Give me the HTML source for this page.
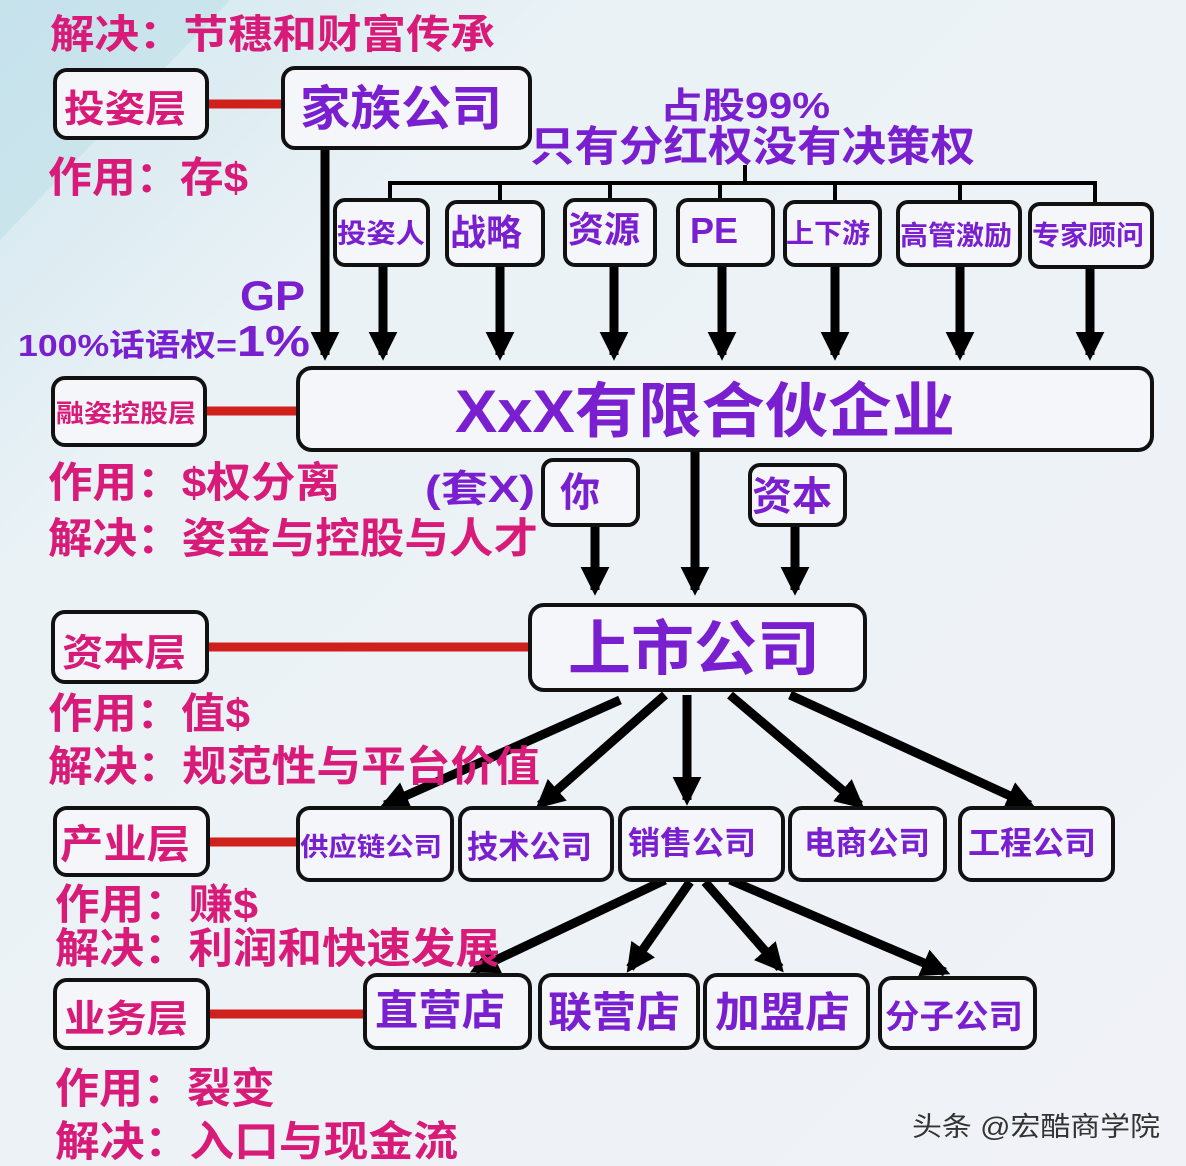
<!DOCTYPE html>
<html><head><meta charset="utf-8"><style>
html,body{margin:0;padding:0;width:1186px;height:1166px;overflow:hidden;background:#eef2f6}
svg{display:block}
text{font-family:"Liberation Sans","Noto Sans CJK SC",sans-serif;font-weight:bold}
.m{fill:#d81b78}
.p{fill:#7a1fd0}
.b{fill:#f4f6fa;stroke:#111;stroke-width:4}
</style></head><body>
<svg width="1186" height="1166" viewBox="0 0 1186 1166">
<defs>
<linearGradient id="bg" x1="0" y1="0" x2="1" y2="1">
<stop offset="0" stop-color="#cfe6ee"/><stop offset="0.25" stop-color="#eaf2f6"/><stop offset="1" stop-color="#f0f2f7"/></linearGradient>
<marker id="ah" viewBox="0 0 10 10" refX="8" refY="5" markerWidth="3.2" markerHeight="3.2" orient="auto"><path d="M0,0 L10,5 L0,10 z" fill="#000"/></marker>
</defs>
<rect width="1186" height="1166" fill="url(#bg)"/>
<path d="M0,0 L230,0 L0,240 z" fill="#bfe0ea" opacity="0.6"/>

<g stroke="#d0201c" stroke-width="9">
<line x1="207" y1="104" x2="285" y2="104"/>
<line x1="205" y1="411" x2="300" y2="411"/>
<line x1="207" y1="647" x2="532" y2="647"/>
<line x1="208" y1="842" x2="300" y2="842"/>
<line x1="208" y1="1014" x2="367" y2="1014"/>
</g>

<g stroke="#000" stroke-width="4" fill="none">
<line x1="745" y1="165" x2="745" y2="183"/>
<path d="M390,205 L390,183 L1095,183 L1095,205"/>
<line x1="500" y1="183" x2="500" y2="203"/>
<line x1="610" y1="183" x2="610" y2="203"/>
<line x1="720" y1="183" x2="720" y2="203"/>
<line x1="835" y1="183" x2="835" y2="203"/>
<line x1="960" y1="183" x2="960" y2="203"/>
</g>

<g stroke="#000" stroke-width="9" marker-end="url(#ah)">
<line x1="325" y1="148" x2="325" y2="355"/>
<line x1="383" y1="265" x2="383" y2="355"/>
<line x1="500" y1="265" x2="500" y2="355"/>
<line x1="614" y1="265" x2="614" y2="355"/>
<line x1="722" y1="265" x2="722" y2="355"/>
<line x1="835" y1="265" x2="835" y2="355"/>
<line x1="960" y1="265" x2="960" y2="355"/>
<line x1="1090" y1="265" x2="1090" y2="355"/>
<line x1="695" y1="450" x2="695" y2="590"/>
<line x1="595" y1="525" x2="595" y2="590"/>
<line x1="795" y1="525" x2="795" y2="590"/>
<line x1="620" y1="700" x2="385" y2="805"/>
<line x1="665" y1="695" x2="540" y2="805"/>
<line x1="687" y1="695" x2="687" y2="800"/>
<line x1="730" y1="695" x2="860" y2="805"/>
<line x1="790" y1="695" x2="1030" y2="805"/>
<line x1="665" y1="880" x2="475" y2="970"/>
<line x1="690" y1="882" x2="630" y2="968"/>
<line x1="705" y1="882" x2="780" y2="968"/>
<line x1="730" y1="880" x2="945" y2="972"/>
</g>

<rect class="b" x="55" y="70" width="152" height="68" rx="12"/>
<rect class="b" x="283" y="68" width="247" height="80" rx="12"/>
<rect class="b" x="335" y="200" width="93" height="65" rx="10"/>
<rect class="b" x="447" y="202" width="96" height="63" rx="10"/>
<rect class="b" x="565" y="200" width="90" height="65" rx="10"/>
<rect class="b" x="678" y="200" width="95" height="65" rx="10"/>
<rect class="b" x="785" y="202" width="95" height="63" rx="10"/>
<rect class="b" x="898" y="202" width="122" height="63" rx="10"/>
<rect class="b" x="1030" y="204" width="122" height="63" rx="10"/>
<rect class="b" x="53" y="378" width="152" height="67" rx="12"/>
<rect class="b" x="298" y="368" width="854" height="82" rx="14"/>
<rect class="b" x="543" y="460" width="95" height="65" rx="10"/>
<rect class="b" x="750" y="465" width="95" height="60" rx="10"/>
<rect class="b" x="53" y="612" width="154" height="70" rx="12"/>
<rect class="b" x="530" y="605" width="335" height="85" rx="14"/>
<rect class="b" x="55" y="808" width="153" height="67" rx="12"/>
<rect class="b" x="298" y="808" width="154" height="72" rx="12"/>
<rect class="b" x="460" y="808" width="152" height="72" rx="12"/>
<rect class="b" x="620" y="808" width="163" height="72" rx="12"/>
<rect class="b" x="790" y="808" width="155" height="72" rx="12"/>
<rect class="b" x="960" y="808" width="153" height="72" rx="12"/>
<rect class="b" x="55" y="980" width="153" height="68" rx="12"/>
<rect class="b" x="365" y="975" width="165" height="73" rx="12"/>
<rect class="b" x="540" y="975" width="158" height="73" rx="12"/>
<rect class="b" x="705" y="975" width="163" height="73" rx="12"/>
<rect class="b" x="880" y="978" width="155" height="70" rx="12"/>

<g lengthAdjust="spacingAndGlyphs">
<text class="m" x="50" y="48" font-size="40" textLength="445" lengthAdjust="spacingAndGlyphs">解决：节穗和财富传承</text>
<text class="m" x="64" y="122" font-size="38" textLength="122" lengthAdjust="spacingAndGlyphs">投姿层</text>
<text class="p" x="300" y="125" font-size="48" textLength="202" lengthAdjust="spacingAndGlyphs">家族公司</text>
<text class="m" x="48" y="192" font-size="42" textLength="200" lengthAdjust="spacingAndGlyphs">作用：存$</text>
<text class="p" x="660" y="118" font-size="36" textLength="170" lengthAdjust="spacingAndGlyphs">占股99%</text>
<text class="p" x="530" y="161" font-size="42" textLength="445" lengthAdjust="spacingAndGlyphs">只有分红权没有决策权</text>
<text class="p" x="337" y="243" font-size="27" textLength="88" lengthAdjust="spacingAndGlyphs">投姿人</text>
<text class="p" x="450" y="245" font-size="36">战略</text>
<text class="p" x="568" y="242" font-size="36">资源</text>
<text class="p" x="690" y="243" font-size="36">PE</text>
<text class="p" x="786" y="243" font-size="27" textLength="84" lengthAdjust="spacingAndGlyphs">上下游</text>
<text class="p" x="900" y="245" font-size="27" textLength="112" lengthAdjust="spacingAndGlyphs">高管激励</text>
<text class="p" x="1032" y="245" font-size="27" textLength="112" lengthAdjust="spacingAndGlyphs">专家顾问</text>
<text class="p" x="240" y="310" font-size="42" textLength="65" lengthAdjust="spacingAndGlyphs">GP</text>
<text class="p" x="18" y="356" font-size="31" textLength="292" lengthAdjust="spacingAndGlyphs">100%话语权=<tspan font-size="44">1%</tspan></text>
<text class="m" x="56" y="422" font-size="25" textLength="140" lengthAdjust="spacingAndGlyphs">融姿控股层</text>
<text class="p" x="455" y="432" font-size="60" textLength="500" lengthAdjust="spacingAndGlyphs">XxX有限合伙企业</text>
<text class="m" x="48" y="497" font-size="42" textLength="292" lengthAdjust="spacingAndGlyphs">作用：$权分离</text>
<text class="m" x="48" y="553" font-size="42" textLength="490" lengthAdjust="spacingAndGlyphs">解决：姿金与控股与人才</text>
<text class="p" x="425" y="502" font-size="38" textLength="110" lengthAdjust="spacingAndGlyphs">(套X)</text>
<text class="p" x="560" y="506" font-size="40">你</text>
<text class="p" x="752" y="510" font-size="40">资本</text>
<text class="m" x="62" y="666" font-size="38" textLength="124" lengthAdjust="spacingAndGlyphs">资本层</text>
<text class="p" x="568" y="670" font-size="60" textLength="252" lengthAdjust="spacingAndGlyphs">上市公司</text>
<text class="m" x="48" y="728" font-size="42" textLength="202" lengthAdjust="spacingAndGlyphs">作用：值$</text>
<text class="m" x="48" y="781" font-size="42" textLength="492" lengthAdjust="spacingAndGlyphs">解决：规范性与平台价值</text>
<text class="m" x="60" y="858" font-size="40" textLength="130" lengthAdjust="spacingAndGlyphs">产业层</text>
<text class="p" x="300" y="856" font-size="26" textLength="142" lengthAdjust="spacingAndGlyphs">供应链公司</text>
<text class="p" x="467" y="858" font-size="32" textLength="125" lengthAdjust="spacingAndGlyphs">技术公司</text>
<text class="p" x="628" y="854" font-size="32" textLength="128" lengthAdjust="spacingAndGlyphs">销售公司</text>
<text class="p" x="804" y="854" font-size="32" textLength="126" lengthAdjust="spacingAndGlyphs">电商公司</text>
<text class="p" x="968" y="854" font-size="32" textLength="128" lengthAdjust="spacingAndGlyphs">工程公司</text>
<text class="m" x="55" y="919" font-size="42" textLength="203" lengthAdjust="spacingAndGlyphs">作用：赚$</text>
<text class="m" x="55" y="963" font-size="42" textLength="445" lengthAdjust="spacingAndGlyphs">解决：利润和快速发展</text>
<text class="m" x="64" y="1032" font-size="38" textLength="124" lengthAdjust="spacingAndGlyphs">业务层</text>
<text class="p" x="375" y="1025" font-size="42" textLength="130" lengthAdjust="spacingAndGlyphs">直营店</text>
<text class="p" x="548" y="1027" font-size="42" textLength="132" lengthAdjust="spacingAndGlyphs">联营店</text>
<text class="p" x="715" y="1027" font-size="42" textLength="135" lengthAdjust="spacingAndGlyphs">加盟店</text>
<text class="p" x="885" y="1028" font-size="33" textLength="138" lengthAdjust="spacingAndGlyphs">分子公司</text>
<text class="m" x="55" y="1103" font-size="42" textLength="220" lengthAdjust="spacingAndGlyphs">作用：裂变</text>
<text class="m" x="55" y="1156" font-size="42" textLength="403" lengthAdjust="spacingAndGlyphs">解决：入口与现金流</text>
<text x="912" y="1136" font-size="27" fill="#333" style="font-weight:normal" textLength="248" lengthAdjust="spacingAndGlyphs">头条 @宏酷商学院</text>
</g>
</svg>
</body></html>
